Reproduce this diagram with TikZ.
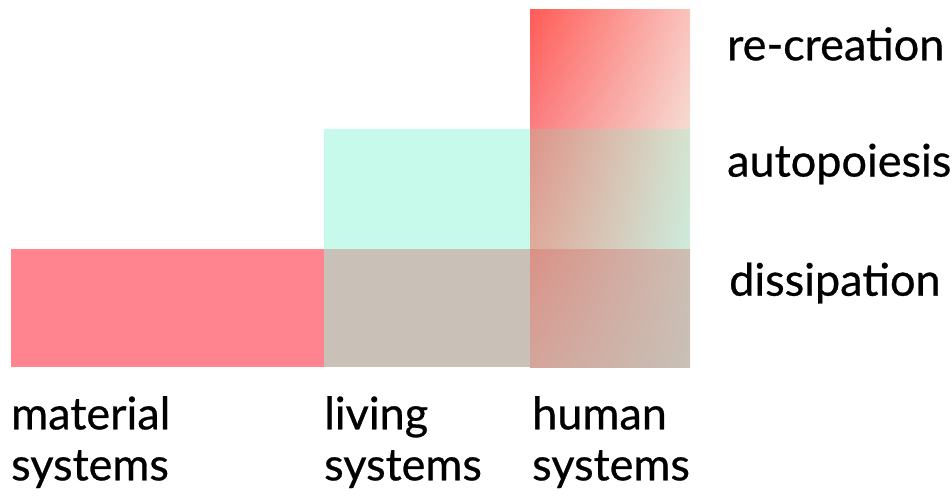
\documentclass[tikz,border=0pt]{standalone}
\usepackage{fontspec}
\newfontfamily\labelfont{Lato}[FakeBold=0.6]
\usetikzlibrary{shadings}
\definecolor{materialpink}{RGB}{255,132,144}
\definecolor{livingcyan}{RGB}{200,250,235}
\definecolor{dissgrey}{RGB}{201,192,183}
% human column corners, top/middle/bottom row
\definecolor{htUL}{RGB}{255,92,86}
\definecolor{htUR}{RGB}{250,195,190}
\definecolor{htLL}{RGB}{252,125,128}
\definecolor{htLR}{RGB}{245,220,210}
\definecolor{hmUL}{RGB}{222,148,138}
\definecolor{hmUR}{RGB}{212,228,208}
\definecolor{hmLL}{RGB}{222,170,154}
\definecolor{hmLR}{RGB}{205,235,220}
\definecolor{hbUL}{RGB}{218,145,135}
\definecolor{hbUR}{RGB}{205,190,180}
\definecolor{hbLL}{RGB}{212,165,155}
\definecolor{hbLR}{RGB}{200,192,182}
\tikzset{
  rowlabel/.style={anchor=west, inner sep=0pt, font=\labelfont\fontsize{45}{51}\selectfont},
  collabel/.style={anchor=north west, inner sep=0pt, align=left, font=\labelfont\fontsize{45}{51}\selectfont}
}
\begin{document}
\begin{tikzpicture}[x=1pt, y=-1pt]
  \useasboundingbox (0,0) rectangle (952,495);

  % columns: material, living, human
  \fill[materialpink] (11,249) rectangle (324,367);
  \fill[livingcyan] (324,129) rectangle (530,249);
  \fill[dissgrey] (324,249) rectangle (530,367);

  % human systems column
  \shade[upper left=htUL, upper right=htUR, lower left=htLL, lower right=htLR] (530,10) rectangle (690,129);
  \shade[upper left=hmUL, upper right=hmUR, lower left=hmLL, lower right=hmLR] (530,129) rectangle (690,249);
  \shade[upper left=hbUL, upper right=hbUR, lower left=hbLL, lower right=hbLR] (530,249) rectangle (690,367);

  % levels
  \node[rowlabel] (recreation) at (727,44) {re-creation};
  \node[rowlabel] (autopoiesis) at (727,164) {autopoiesis};
  \node[rowlabel] (dissipation) at (729,283) {dissipation};

  % systems
  \node[collabel] (material) at (11,396) {material\\systems};
  \node[collabel] (living) at (324,396) {living\\systems};
  \node[collabel] (human) at (532,396) {human\\systems};
\end{tikzpicture}
\end{document}
